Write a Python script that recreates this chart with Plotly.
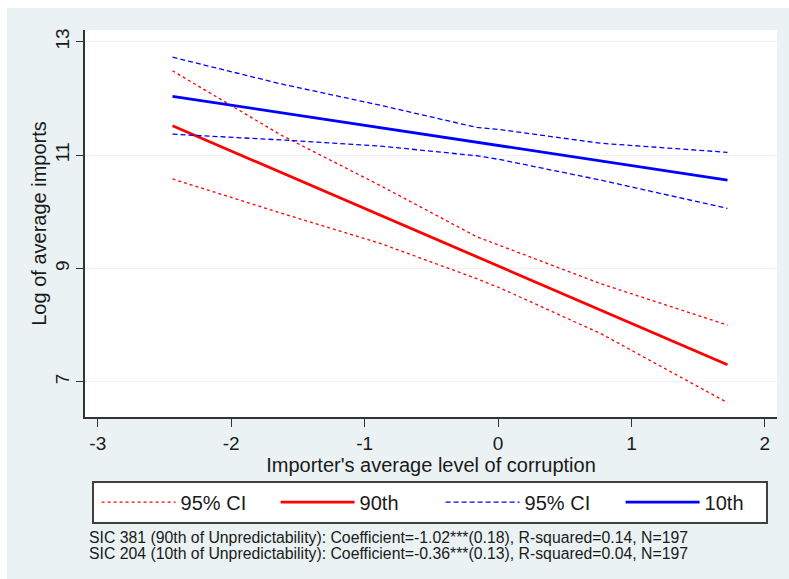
import plotly.graph_objects as go

# ---- data ----
fit_x = [-2.44, 1.72]
fit_90th = [11.52, 7.30]
fit_10th = [12.04, 10.56]

ci_x = [-2.44, -1.63, -0.88, -0.16, 0.02, 0.77, 1.72]
ci90_hi = [12.49, 11.36, 10.46, 9.56, 9.40, 8.73, 8.00]
ci90_lo = [10.58, 9.98, 9.44, 8.82, 8.65, 7.85, 6.63]
ci10_hi = [12.73, 12.26, 11.88, 11.49, 11.45, 11.21, 11.05]
ci10_lo = [11.37, 11.27, 11.16, 10.99, 10.92, 10.56, 10.06]

x_ticks = [-3, -2, -1, 0, 1, 2]
x_ticktext = ["-3", "-2", "-1", "0", "1", "2"]
y_ticks = [7, 9, 11, 13]

notes = [
    "SIC 381 (90th of Unpredictability): Coefficient=-1.02***(0.18), R-squared=0.14, N=197",
    "SIC 204 (10th of Unpredictability): Coefficient=-0.36***(0.13), R-squared=0.04, N=197",
]

RED = "#FF0000"
BLUE = "#0000FF"
BG = "#EAF2F3"
FONT = "Liberation Sans, Arial, sans-serif"

W, H = 789, 579
ML, MR, MT, MB = 85, 12, 30, 162
PW, PH = W - ML - MR, H - MT - MB


def px_x(px):
    return (px - ML) / PW


def px_y(py):
    return (H - MB - py) / PH


fig = go.Figure()
fig.add_trace(go.Scatter(x=ci_x, y=ci90_hi, mode="lines", name="95% CI",
                         line=dict(color=RED, width=1.3, dash="3px,3px"),
                         legendwidth=87))
fig.add_trace(go.Scatter(x=ci_x, y=ci90_lo, mode="lines", name="95% CI",
                         line=dict(color=RED, width=1.3, dash="3px,3px"),
                         showlegend=False))
fig.add_trace(go.Scatter(x=fit_x, y=fit_90th, mode="lines", name="90th",
                         line=dict(color=RED, width=2.8), legendwidth=73))
fig.add_trace(go.Scatter(x=ci_x, y=ci10_hi, mode="lines", name="95% CI",
                         line=dict(color=BLUE, width=1.3, dash="5px,3px"),
                         legendwidth=88))
fig.add_trace(go.Scatter(x=ci_x, y=ci10_lo, mode="lines", name="95% CI",
                         line=dict(color=BLUE, width=1.3, dash="5px,3px"),
                         showlegend=False))
fig.add_trace(go.Scatter(x=fit_x, y=fit_10th, mode="lines", name="10th",
                         line=dict(color=BLUE, width=2.8), legendwidth=56))

annotations = []
for i, t in enumerate(notes):
    annotations.append(dict(
        text=t, xref="paper", yref="paper", x=px_x(87), y=px_y(537 + 16 * i),
        xanchor="left", yanchor="middle", showarrow=False,
        font=dict(family=FONT, size=15.8, color="#1a1a1a")))

shapes = [
    # white outer border on left and top
    dict(type="rect", xref="paper", yref="paper", x0=px_x(0), x1=px_x(7),
         y0=px_y(H), y1=px_y(0), fillcolor="white", line=dict(width=0), layer="below"),
    dict(type="rect", xref="paper", yref="paper", x0=px_x(0), x1=px_x(W),
         y0=px_y(8), y1=px_y(0), fillcolor="white", line=dict(width=0), layer="below"),
]

fig.update_layout(
    width=W, height=H,
    margin=dict(l=ML, r=MR, t=MT, b=MB, pad=0, autoexpand=False),
    paper_bgcolor=BG, plot_bgcolor="white",
    font=dict(family=FONT, size=19, color="#1a1a1a"),
    xaxis=dict(range=[-3.096, 2.091], tickvals=x_ticks, ticktext=x_ticktext,
               ticks="outside",
               ticklen=8, tickwidth=1.3, tickcolor="#333333",
               showline=True, linecolor="#333333", linewidth=1.6,
               showgrid=False, zeroline=False,
               title=dict(text="Importer's average level of corruption",
                          font=dict(size=20), standoff=0),
               tickfont=dict(size=19)),
    yaxis=dict(range=[6.377, 13.21], tickvals=y_ticks, ticks="outside",
               ticklen=7, tickwidth=1.3, tickcolor="#333333",
               showline=True, linecolor="#333333", linewidth=1.6,
               showgrid=True, gridcolor="#EEF4F5", gridwidth=1.2,
               zeroline=False, tickangle=-90,
               title=dict(text="Log of average imports", font=dict(size=20),
                          standoff=0),
               tickfont=dict(size=19)),
    legend=dict(orientation="h", x=px_x(92), y=px_y(481),
                xanchor="left", yanchor="top", traceorder="normal",
                bgcolor="white", bordercolor="#404040", borderwidth=1.6,
                font=dict(size=20), itemwidth=74, indentation=3),
    annotations=annotations,
    shapes=shapes,
)

fig.write_html("out.html")
